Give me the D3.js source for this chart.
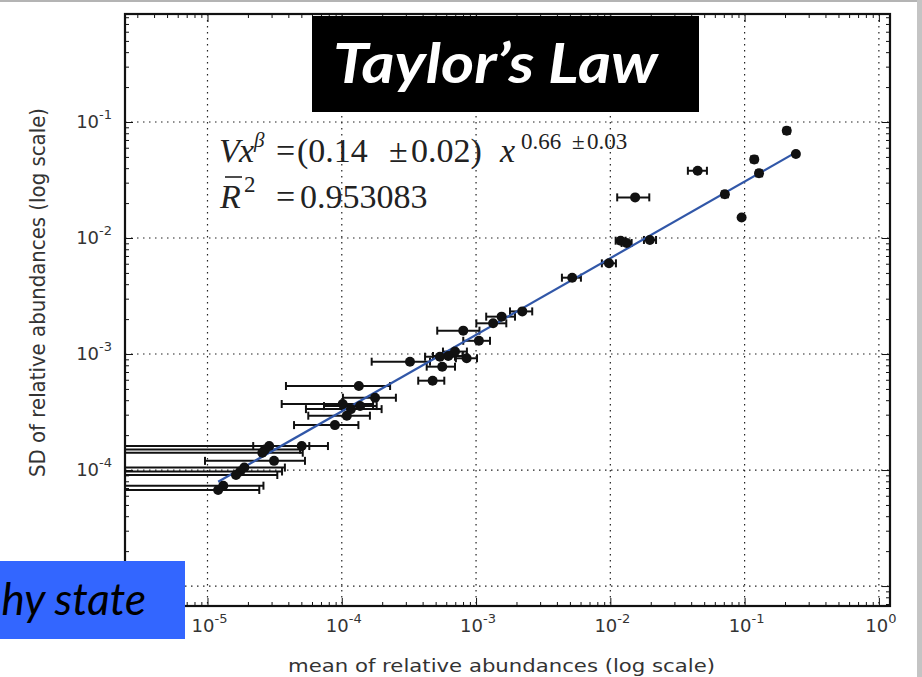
<!DOCTYPE html>
<html>
<head>
<meta charset="utf-8">
<script src="https://cdnjs.cloudflare.com/ajax/libs/d3/7.8.5/d3.min.js"></script>
<style>
    html, body { margin: 0; padding: 0; background: #fff; }
    .chart { width: 922px; height: 677px; position: relative; overflow: hidden; }
    .axis .domain { display: none; }
    .axis line { stroke: #111; stroke-width: 1; }
    .tick-label { font-family: "DejaVu Sans", sans-serif; font-size: 18px; fill: #333; }
    .axis-title { font-family: "DejaVu Sans", sans-serif; fill: #333; }
    .grid line { stroke: #222; stroke-width: 1.2; stroke-dasharray: 1.5,4.5; }
</style>
</head>
<body>
<div class="chart"></div>
<script>

//values: mean, SD and the ends of the x error bar
//a low end of 1e-7 means the bar runs off the left side of the plot
let meanAbundance = [0.206, 0.241, 0.118, 0.128, 0.0713, 0.095, 0.0447, 0.0153, 0.0197, 0.01193,
    0.01322, 0.00977, 0.00520, 0.00221, 0.00155, 0.00134, 0.000803, 0.00105, 0.000697, 0.000621,
    0.000538, 0.000851, 0.000322, 0.000560, 0.000475, 0.000134, 0.000177, 0.0001016, 0.000117, 0.000137,
    0.000109, 8.89e-5, 2.88e-5, 5.03e-5, 2.68e-5, 2.56e-5, 3.13e-5, 1.88e-5, 1.75e-5, 1.63e-5,
    1.31e-5, 1.20e-5];

let sdAbundance = [0.0841, 0.0530, 0.0476, 0.0361, 0.0238, 0.0150, 0.0380, 0.0224, 0.00962, 0.00948,
    0.00906, 0.00605, 0.00455, 0.00233, 0.00210, 0.00184, 0.00159, 0.00130, 0.00105, 0.000962,
    0.000948, 0.000919, 0.000859, 0.000778, 0.000589, 0.000530, 0.000420, 0.000371, 0.000335, 0.000356,
    0.000294, 0.000244, 0.000161, 0.000161, 0.000150, 0.000141, 0.000120, 0.000105, 9.71e-5, 9.06e-5,
    7.33e-5, 6.73e-5];

let meanLow = [0.196, 0.234, 0.112, 0.122, 0.0677, 0.095, 0.0378, 0.01125, 0.0178, 0.01096,
    0.01214, 0.00865, 0.00436, 0.00179, 0.00119, 0.001005, 0.000514, 0.000803, 0.000567, 0.000478,
    0.000417, 0.000708, 0.000167, 0.000429, 0.000371, 3.84e-5, 0.000102, 3.57e-5, 5.41e-5, 7.37e-5,
    5.63e-5, 4.41e-5, 1e-7, 2.19e-5, 1e-7, 1e-7, 9.58e-6, 1e-7, 1e-7, 1e-7,
    1e-7, 1e-7];

let meanHigh = [0.217, 0.248, 0.124, 0.135, 0.0751, 0.095, 0.0524, 0.0195, 0.0219, 0.0130,
    0.01441, 0.01101, 0.00604, 0.00262, 0.00195, 0.00168, 0.00106, 0.00127, 0.000855, 0.000798,
    0.000697, 0.001016, 0.000454, 0.000697, 0.000580, 0.000229, 0.000253, 0.000171, 0.000198, 0.000182,
    0.000162, 0.000133, 5.73e-5, 7.89e-5, 4.89e-5, 5.12e-5, 5.32e-5, 3.77e-5, 3.59e-5, 3.31e-5,
    2.61e-5, 2.43e-5];

//fitted Taylor's law: SD = V * mean^beta
let fitV = 0.14;
let fitBeta = 0.66;

//axis limits, grid decades and the decade labels that can be seen
let xLimits = [2.43e-6, 1.21];
let yLimits = [6.73e-6, 0.853];
let xTickPowers = [-5, -4, -3, -2, -1, 0];
let yTickPowers = [-5, -4, -3, -2, -1];
let yLabelPowers = [-4, -3, -2, -1];

let chart = {};

init();

function init() {
    chart.data = meanAbundance.map((m, i) => ({
        mean: m,
        sd: sdAbundance[i],
        lo: meanLow[i],
        hi: meanHigh[i]
    }));

    appendElements();
    update();
}

function update() {
    setDimensions();
    setScales();
    updateElements();
}

function setDimensions() {
    chart.margin = { top: 14, right: 32, bottom: 71, left: 125 };
    chart.fullWidth = 922;
    chart.fullHeight = 677;
    chart.width = chart.fullWidth - chart.margin.left - chart.margin.right;
    chart.height = chart.fullHeight - chart.margin.top - chart.margin.bottom;
}

function setScales() {
    chart.xScale = d3.scaleLog().domain(xLimits).range([0, chart.width]);
    chart.yScale = d3.scaleLog().domain(yLimits).range([chart.height, 0]);

    //minor ticks 2..9 in every decade that shows
    chart.xMinor = minorTicks(xLimits);
    chart.yMinor = minorTicks(yLimits);
}

function minorTicks(limits) {
    let out = [];
    for (let p = -7; p <= 1; p++) {
        for (let k = 2; k <= 9; k++) {
            let v = k * Math.pow(10, p);
            if (v > limits[0] && v < limits[1]) out.push(v);
        }
    }
    return out;
}

function appendElements() {
    chart.svg = d3.select(".chart").append("svg");

    //slide edges that show in the screenshot
    chart.topEdge = chart.svg.append("rect");
    chart.rightEdge = chart.svg.append("rect");

    chart.plot = chart.svg.append("g").attr("class", "chart-g");

    chart.plot.append("clipPath").attr("id", "plot-clip").append("rect");

    chart.grid = chart.plot.append("g").attr("class", "grid");
    chart.marks = chart.plot.append("g").attr("clip-path", "url(#plot-clip)");
    chart.frame = chart.plot.append("rect");

    chart.axes = chart.plot.append("g");
    chart.xLabels = chart.plot.append("g");
    chart.yLabels = chart.plot.append("g");

    chart.xTitle = chart.svg.append("text").attr("class", "axis-title");
    chart.yTitle = chart.svg.append("text").attr("class", "axis-title");

    chart.formula = chart.svg.append("g");
    chart.titleBox = chart.svg.append("g");
    chart.stateBox = chart.svg.append("g");
}

function updateElements() {
    let x = chart.xScale;
    let y = chart.yScale;
    let w = chart.width;
    let h = chart.height;

    chart.svg.attr("width", chart.fullWidth).attr("height", chart.fullHeight);

    chart.topEdge.attr("x", 0).attr("y", 0).attr("width", chart.fullWidth).attr("height", 2).attr("fill", "#b4b4b4");
    chart.rightEdge.attr("x", 917).attr("y", 0).attr("width", 5).attr("height", chart.fullHeight).attr("fill", "#c4c4c4");

    chart.plot.attr("transform", `translate(${chart.margin.left},${chart.margin.top})`);
    chart.plot.select("#plot-clip rect").attr("width", w).attr("height", h);

    let xMajor = xTickPowers.map(p => Math.pow(10, p));
    let yMajor = yTickPowers.map(p => Math.pow(10, p));

    //dotted grid at the decades
    chart.grid.selectAll(".gx").data(xMajor).join("line").attr("class", "gx")
        .attr("x1", d => x(d)).attr("x2", d => x(d))
        .attr("y1", 0).attr("y2", h);
    chart.grid.selectAll(".gy").data(yMajor).join("line").attr("class", "gy")
        .attr("x1", 0).attr("x2", w)
        .attr("y1", d => y(d)).attr("y2", d => y(d));

    //ticks point inwards on all four sides
    let sides = [
        { axis: d3.axisBottom, scale: x, at: `translate(0,${h})`, major: xMajor, minor: chart.xMinor },
        { axis: d3.axisTop, scale: x, at: "translate(0,0)", major: xMajor, minor: chart.xMinor },
        { axis: d3.axisLeft, scale: y, at: "translate(0,0)", major: yMajor, minor: chart.yMinor },
        { axis: d3.axisRight, scale: y, at: `translate(${w},0)`, major: yMajor, minor: chart.yMinor }
    ];
    chart.axes.selectAll("g").remove();
    sides.forEach(s => {
        chart.axes.append("g").attr("class", "axis").attr("transform", s.at)
            .call(s.axis(s.scale).tickValues(s.major).tickSize(-8).tickFormat(""));
        chart.axes.append("g").attr("class", "axis").attr("transform", s.at)
            .call(s.axis(s.scale).tickValues(s.minor).tickSize(-4).tickFormat(""));
    });
    chart.axes.selectAll("text").remove();

    //error bars, caps and points
    let cap = 4;
    let bars = chart.marks.selectAll(".pt").data(chart.data).join("g").attr("class", "pt");
    bars.selectAll("*").remove();
    bars.filter(d => d.hi > d.lo).each(function(d) {
        let g = d3.select(this);
        let cy = y(d.sd);
        g.append("line")
            .attr("x1", x(d.lo)).attr("x2", x(d.hi))
            .attr("y1", cy).attr("y2", cy)
            .attr("stroke", "#111").attr("stroke-width", 2);
        [d.lo, d.hi].forEach(v => {
            g.append("line")
                .attr("x1", x(v)).attr("x2", x(v))
                .attr("y1", cy - cap).attr("y2", cy + cap)
                .attr("stroke", "#111").attr("stroke-width", 2);
        });
    });

    //fitted line over the range of the means
    let xr = d3.extent(meanAbundance);
    chart.marks.selectAll(".fit").data([xr]).join("line").attr("class", "fit")
        .attr("x1", d => x(d[0])).attr("x2", d => x(d[1]))
        .attr("y1", d => y(fitV * Math.pow(d[0], fitBeta)))
        .attr("y2", d => y(fitV * Math.pow(d[1], fitBeta)))
        .attr("stroke", "#3157a8").attr("stroke-width", 2.2);

    chart.marks.selectAll(".dot").data(chart.data).join("circle").attr("class", "dot")
        .attr("cx", d => x(d.mean)).attr("cy", d => y(d.sd))
        .attr("r", 5).attr("fill", "#111");

    chart.frame.attr("width", w).attr("height", h)
        .attr("fill", "none").attr("stroke", "#111").attr("stroke-width", 2.2);

    //decade labels written as 10 with a raised exponent
    let xl = chart.xLabels.selectAll("text").data(xTickPowers).join("text")
        .attr("class", "tick-label")
        .attr("text-anchor", "middle")
        .attr("x", d => x(Math.pow(10, d)) + 2)
        .attr("y", h + 26);
    writePower(xl);

    let yl = chart.yLabels.selectAll("text").data(yLabelPowers).join("text")
        .attr("class", "tick-label")
        .attr("text-anchor", "end")
        .attr("x", -13)
        .attr("y", d => y(Math.pow(10, d)) + 6);
    writePower(yl);

    chart.xTitle
        .attr("x", 288)
        .attr("y", 672)
        .attr("font-size", 18)
        .attr("textLength", 427)
        .attr("lengthAdjust", "spacingAndGlyphs")
        .text("mean of relative abundances (log scale)");

    chart.yTitle
        .attr("transform", "translate(45,477) rotate(-90)")
        .attr("font-size", 21)
        .attr("textLength", 369)
        .attr("lengthAdjust", "spacingAndGlyphs")
        .text("SD of relative abundances (log scale)");

    drawFormula();
    drawBoxes();
}

function writePower(sel) {
    sel.selectAll("tspan").remove();
    sel.append("tspan").text("10");
    sel.append("tspan").attr("dy", -9).attr("font-size", 13).text(d => d < 0 ? "-" + Math.abs(d) : String(d));
}

function drawFormula() {
    let f = chart.formula;
    f.selectAll("*").remove();
    let serif = "'Liberation Serif', 'DejaVu Serif', serif";

    //pieces are placed one by one to copy the wide math spacing
    let line1 = f.append("text").attr("font-family", serif).attr("font-size", 34).attr("fill", "#222");
    line1.append("tspan").attr("x", 219).attr("y", 162).attr("font-style", "italic").text("V");
    line1.append("tspan").attr("x", 239).attr("y", 162).attr("font-style", "italic").text("x");
    line1.append("tspan").attr("x", 254).attr("y", 147).attr("font-size", 21).attr("font-style", "italic").text("β");
    line1.append("tspan").attr("x", 276).attr("y", 162).text("=");
    line1.append("tspan").attr("x", 297).attr("y", 162).text("(0.14");
    line1.append("tspan").attr("x", 389).attr("y", 162).text("±");
    line1.append("tspan").attr("x", 411).attr("y", 162).text("0.02)");
    line1.append("tspan").attr("x", 500).attr("y", 162).attr("font-style", "italic").text("x");
    line1.append("tspan").attr("x", 521).attr("y", 149).attr("font-size", 23).text("0.66");
    line1.append("tspan").attr("x", 572).attr("y", 149).attr("font-size", 23).text("±");
    line1.append("tspan").attr("x", 587).attr("y", 149).attr("font-size", 23).text("0.03");

    let line2 = f.append("text").attr("font-family", serif).attr("font-size", 34).attr("fill", "#222");
    line2.append("tspan").attr("x", 220).attr("y", 208).attr("font-style", "italic").text("R");
    line2.append("tspan").attr("x", 244).attr("y", 192).attr("font-size", 23).text("2");
    line2.append("tspan").attr("x", 276).attr("y", 208).text("=");
    line2.append("tspan").attr("x", 300).attr("y", 208).text("0.953083");

    //bar over the R
    f.append("line").attr("x1", 225).attr("x2", 242).attr("y1", 177).attr("y2", 177)
        .attr("stroke", "#222").attr("stroke-width", 1.6);
}

function drawBoxes() {
    let t = chart.titleBox;
    t.selectAll("*").remove();
    t.append("rect").attr("x", 312).attr("y", 16).attr("width", 387).attr("height", 96).attr("fill", "#000");
    t.append("text")
        .attr("x", 333).attr("y", 83)
        .attr("font-family", "Lato, 'Open Sans', sans-serif")
        .attr("font-size", 56).attr("font-weight", "bold").attr("font-style", "italic")
        .attr("fill", "#fff")
        .attr("textLength", 325).attr("lengthAdjust", "spacingAndGlyphs")
        .text("Taylor’s Law");

    let s = chart.stateBox;
    s.selectAll("*").remove();
    s.append("rect").attr("x", 0).attr("y", 561).attr("width", 185).attr("height", 78).attr("fill", "#3366ff");
    s.append("text")
        .attr("x", 146).attr("y", 615)
        .attr("text-anchor", "end")
        .attr("font-family", "Lato, 'Open Sans', sans-serif")
        .attr("font-size", 44).attr("font-style", "italic")
        .attr("fill", "#000")
        .text("hy state");
}

</script>
</body>
</html>
